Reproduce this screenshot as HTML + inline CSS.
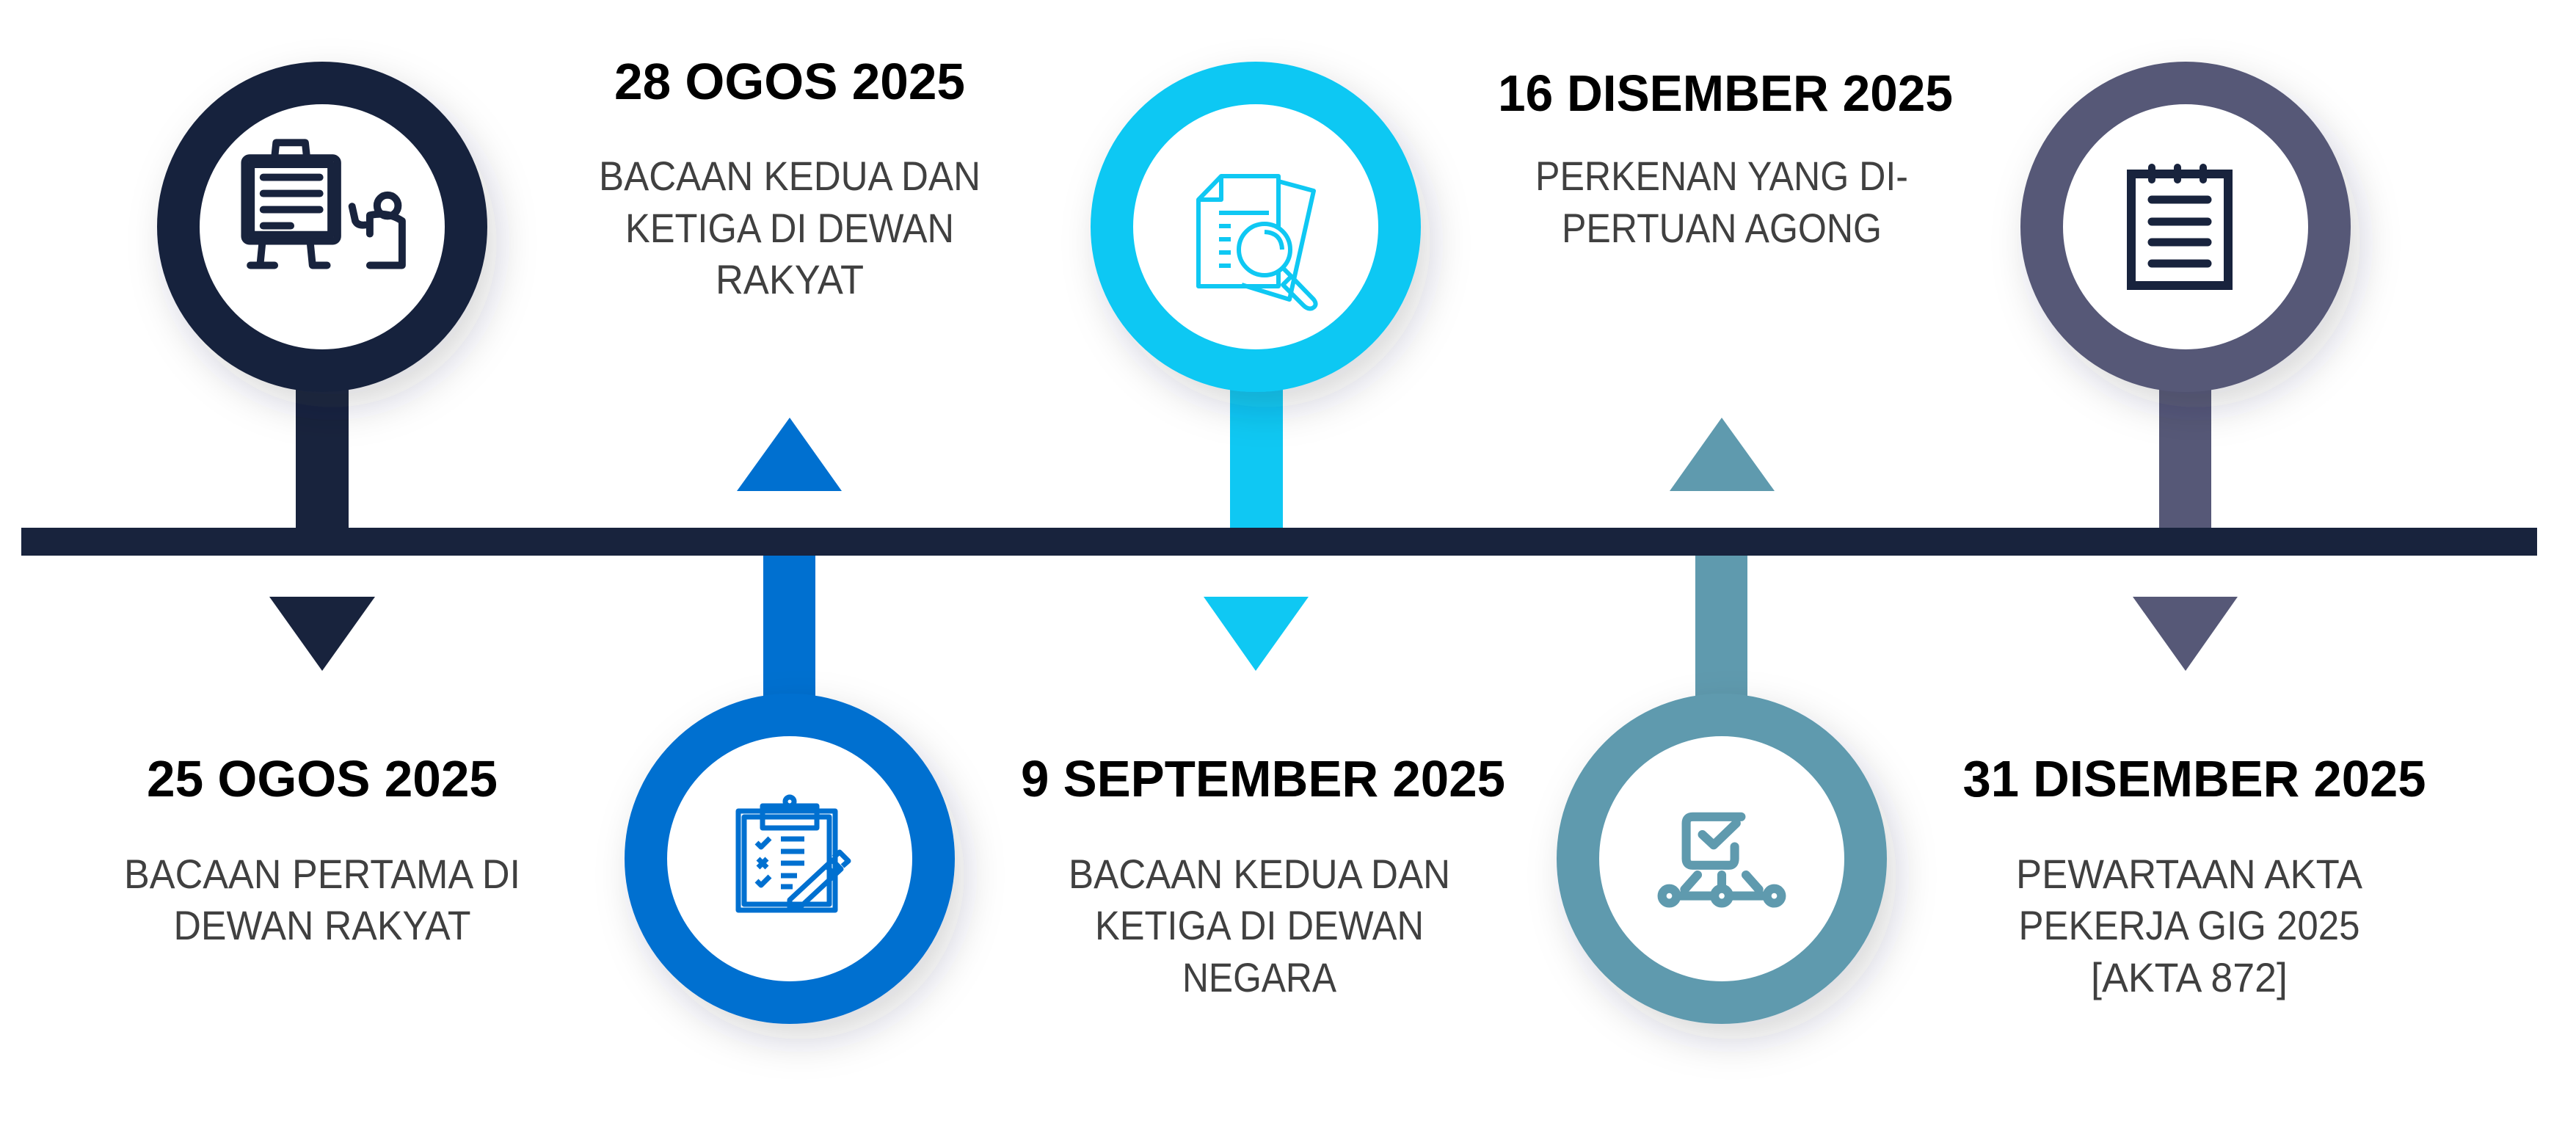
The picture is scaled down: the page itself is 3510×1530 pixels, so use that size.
<!DOCTYPE html>
<html><head><meta charset="utf-8"><style>
html,body{margin:0;padding:0;background:#fff;}
svg{display:block;}
.d{font-family:"Liberation Sans",sans-serif;font-weight:bold;font-size:70px;fill:#000;}
.b{font-family:"Liberation Sans",sans-serif;font-size:56px;fill:#404040;}
</style></head><body>
<svg width="3510" height="1530" viewBox="0 0 3510 1530" xmlns="http://www.w3.org/2000/svg">
<defs>
<filter id="sh" x="-30%" y="-30%" width="160%" height="160%">
<feDropShadow dx="14" dy="22" stdDeviation="26" flood-color="#1a2540" flood-opacity="0.18"/>
</filter>
</defs>
<rect x="403" y="480" width="72" height="250" fill="#18233d"/>
<rect x="1040" y="745" width="71" height="250" fill="#0070d0"/>
<rect x="1676" y="480" width="72" height="250" fill="#0fc8f3"/>
<rect x="2310" y="745" width="71" height="250" fill="#5f9aae"/>
<rect x="2942" y="480" width="71" height="250" fill="#565877"/>
<rect x="29" y="719" width="3428" height="38" fill="#18233d"/>
<g filter="url(#sh)">
<circle cx="439" cy="309" r="196" fill="#fff" stroke="#18233d" stroke-width="58"/>
<circle cx="1076" cy="1170" r="196" fill="#fff" stroke="#0070d0" stroke-width="58"/>
<circle cx="1711" cy="309" r="196" fill="#fff" stroke="#0fc8f3" stroke-width="58"/>
<circle cx="2346" cy="1170" r="196" fill="#fff" stroke="#5f9aae" stroke-width="58"/>
<circle cx="2978" cy="309" r="196" fill="#fff" stroke="#565877" stroke-width="58"/>
</g>
<polygon points="367,813 511,813 439,914" fill="#18233d"/>
<polygon points="1004,669 1147,669 1076,569" fill="#0070d0"/>
<polygon points="1640,813 1783,813 1711,914" fill="#0fc8f3"/>
<polygon points="2275,669 2418,669 2346,569" fill="#5f9aae"/>
<polygon points="2906,813 3049,813 2978,914" fill="#565877"/>
<!-- icon 1 -->
<g fill="none" stroke="#18233d" stroke-width="9" stroke-linecap="round" stroke-linejoin="round" transform="translate(439 290) scale(1.1) translate(-439 -290)">
<rect x="343" y="222" width="115" height="103" rx="6"/>
<rect x="351" y="230" width="99" height="87"/>
<path d="M380 222 L382 203 H418 L420 222"/>
<path d="M366 246 H436 M366 266 H436 M366 286 H436 M366 306 H400"/>
<path d="M365 325 L362 355 M350 355 H380 M424 325 L427 355 H445"/>
<circle cx="520" cy="281" r="13"/>
<path d="M476 282 L480 300 Q483 306 492 305 M498 316 V293 Q520 288 538 300 V355 H498"/>
</g>
<!-- icon 2 -->
<g fill="none" stroke="#0070d0" stroke-width="7" stroke-linejoin="round" transform="translate(6 108)">
<rect x="1000" y="997" width="132" height="135"/>
<rect x="1008" y="1005" width="116" height="119"/>
<rect x="1033" y="990" width="74" height="30"/>
<circle cx="1070" cy="984" r="6"/>
<path d="M1058 1035 H1090 M1058 1052 H1090 M1058 1068 H1090 M1058 1085 H1080 M1058 1100 H1074"/>
<path d="M1025 1040 l6 6 l12-12 M1025 1092 l6 6 l12-12 M1027 1062 l12 12 M1039 1062 l-12 12"/>
<path d="M1070 1130 L1070 1118 L1128 1064 L1140 1076 L1082 1130 Z M1120 1072 l12 12"/>
<path d="M1130 1060 l8-7 l12 12 l-8 7"/>
</g>
<!-- icon 3 -->
<g fill="none" stroke="#0fc8f3" stroke-width="6" stroke-linejoin="round">
<path d="M1633 272 L1664 240 H1742 V390 H1633 Z"/>
<path d="M1633 272 H1664 V240"/>
<path d="M1742 247 L1790 260 L1757 408 L1692 388"/>
<path d="M1661 290 H1729 M1661 308 H1677 M1661 326 H1677 M1661 344 H1677 M1661 362 H1677"/>
<circle cx="1723" cy="340" r="35" fill="#fff"/>
<path d="M1723 316 Q1746 317 1747 340"/>
<path d="M1748 365 L1758 375 L1790 408 Q1796 416 1788 420 Q1782 422 1776 416 L1748 388 L1760 376"/>
</g>
<!-- icon 4 -->
<g fill="none" stroke="#5f9aae" stroke-width="11" stroke-linecap="round" stroke-linejoin="round" transform="translate(2346 1170) scale(1.1) translate(-2346 -1140)">
<path d="M2370 1088 H2310 Q2302 1088 2302 1096 V1140 Q2302 1148 2310 1148 H2355 Q2362 1148 2362 1140 V1125"/>
<path d="M2322 1110 L2336 1123 L2364 1096"/>
<path d="M2346 1160 V1180 M2316 1160 L2300 1178 M2376 1160 L2392 1178"/>
<path d="M2282 1186 H2412"/>
<circle cx="2281" cy="1186" r="9" fill="#fff"/>
<circle cx="2346" cy="1186" r="9" fill="#fff"/>
<circle cx="2411" cy="1186" r="9" fill="#fff"/>
</g>
<!-- icon 5 -->
<g fill="none" stroke="#18233d" stroke-linecap="round">
<rect x="2904" y="237" width="132" height="152" stroke-width="12"/>
<path d="M2932 228 V245 M2967 228 V245 M3002 228 V245" stroke-width="10"/>
<path d="M2932 272 H3008 M2932 302 H3008 M2932 330 H3008 M2932 359 H3008" stroke-width="11"/>
</g>
<g text-anchor="middle">
<text class="d" x="1076" y="135" textLength="478" lengthAdjust="spacingAndGlyphs">28 OGOS 2025</text>
<text class="b" x="1076" y="259" textLength="520" lengthAdjust="spacingAndGlyphs">BACAAN KEDUA DAN</text>
<text class="b" x="1076" y="330" textLength="448" lengthAdjust="spacingAndGlyphs">KETIGA DI DEWAN</text>
<text class="b" x="1076" y="400" textLength="202" lengthAdjust="spacingAndGlyphs">RAKYAT</text>
<text class="d" x="2351" y="151" textLength="620" lengthAdjust="spacingAndGlyphs">16 DISEMBER 2025</text>
<text class="b" x="2346" y="259" textLength="508" lengthAdjust="spacingAndGlyphs">PERKENAN YANG DI-</text>
<text class="b" x="2346" y="330" textLength="436" lengthAdjust="spacingAndGlyphs">PERTUAN AGONG</text>
<text class="d" x="439" y="1085" textLength="478" lengthAdjust="spacingAndGlyphs">25 OGOS 2025</text>
<text class="b" x="439" y="1210" textLength="540" lengthAdjust="spacingAndGlyphs">BACAAN PERTAMA DI</text>
<text class="b" x="439" y="1280" textLength="405" lengthAdjust="spacingAndGlyphs">DEWAN RAKYAT</text>
<text class="d" x="1721" y="1085" textLength="660" lengthAdjust="spacingAndGlyphs">9 SEPTEMBER 2025</text>
<text class="b" x="1716" y="1210" textLength="520" lengthAdjust="spacingAndGlyphs">BACAAN KEDUA DAN</text>
<text class="b" x="1716" y="1280" textLength="448" lengthAdjust="spacingAndGlyphs">KETIGA DI DEWAN</text>
<text class="b" x="1716" y="1351" textLength="210" lengthAdjust="spacingAndGlyphs">NEGARA</text>
<text class="d" x="2990" y="1085" textLength="631" lengthAdjust="spacingAndGlyphs">31 DISEMBER 2025</text>
<text class="b" x="2983" y="1210" textLength="472" lengthAdjust="spacingAndGlyphs">PEWARTAAN AKTA</text>
<text class="b" x="2983" y="1280" textLength="465" lengthAdjust="spacingAndGlyphs">PEKERJA GIG 2025</text>
<text class="b" x="2983" y="1351" textLength="268" lengthAdjust="spacingAndGlyphs">[AKTA 872]</text>
</g>
</svg>
</body></html>
